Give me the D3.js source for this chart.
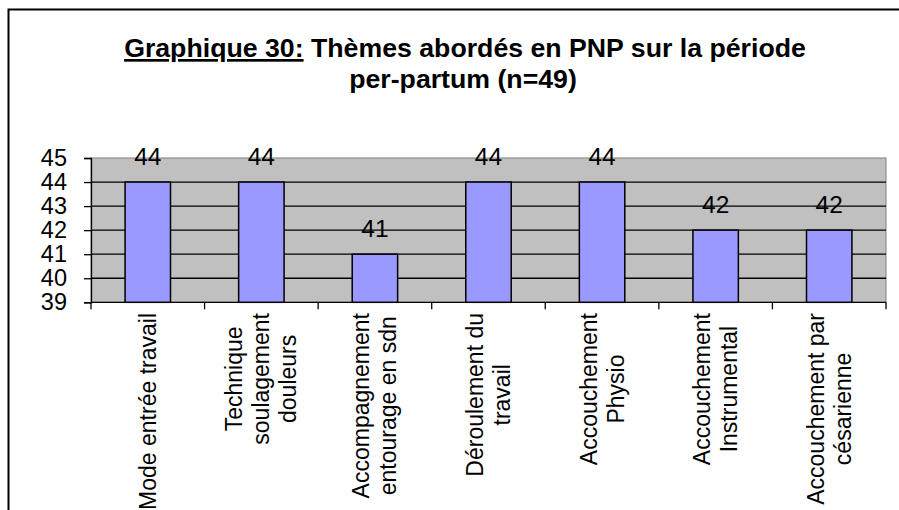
<!DOCTYPE html>
<html>
<head>
<meta charset="utf-8">
<script src="https://cdn.jsdelivr.net/npm/d3@7"></script>
<style>
    body { margin: 0; background: #fff; }
    svg { display: block; font-family: "Liberation Sans", Arial, sans-serif; }
</style>
</head>
<body>
<div id="chart"></div>
<script>
// categories, each split in the lines shown under the axis
const categories = [
    ["Mode entrée travail"],
    ["Technique", "soulagement", "douleurs"],
    ["Accompagnement", "entourage en sdn"],
    ["Déroulement du", "travail"],
    ["Accouchement", "Physio"],
    ["Accouchement", "Instrumental"],
    ["Accouchement par", "césarienne"]
];
const values = [44, 44, 41, 44, 44, 42, 42];
const y_ticks = [39, 40, 41, 42, 43, 44, 45];
const title_underlined = "Graphique 30:";
const title_line1 = " Thèmes abordés en PNP sur la période";
const title_line2 = "per-partum (n=49)";

const width = 899;
const height = 510;
const margin_left = 91;
const plot_right = 886;
const plot_top = 158;
const plot_bottom = 302.3;
const bar_color = "#9999ff";
const plot_bg = "#c0c0c0";

const svg = d3.select("#chart").append("svg")
    .attr("width", width)
    .attr("height", height);

// outer frame (right and bottom edges run off the picture)
svg.append("rect")
    .attr("x", 8.5)
    .attr("y", 9.5)
    .attr("width", 920)
    .attr("height", 540)
    .attr("fill", "none")
    .attr("stroke", "#000")
    .attr("stroke-width", 2);

// title
const title_x = 465;
const t1 = svg.append("text")
    .attr("x", title_x)
    .attr("y", 57)
    .attr("text-anchor", "middle")
    .attr("font-size", 26.7)
    .attr("font-weight", "bold")
    .attr("fill", "#000");
t1.append("tspan").attr("text-decoration", "underline").text(title_underlined);
t1.append("tspan").text(title_line1);
svg.append("text")
    .attr("x", title_x - 2)
    .attr("y", 88)
    .attr("text-anchor", "middle")
    .attr("font-size", 26.7)
    .attr("font-weight", "bold")
    .attr("fill", "#000")
    .text(title_line2);

// scales
const xScale = d3.scaleBand()
    .domain(d3.range(categories.length))
    .range([margin_left, plot_right])
    .paddingInner(0.6)
    .paddingOuter(0.3);
const step = (plot_right - margin_left) / categories.length;

const yScale = d3.scaleLinear()
    .domain([39, 45])
    .range([plot_bottom, plot_top]);

// plot area
svg.append("rect")
    .attr("x", margin_left)
    .attr("y", plot_top)
    .attr("width", plot_right - margin_left)
    .attr("height", plot_bottom - plot_top)
    .attr("fill", plot_bg)
    .attr("stroke", "#808080")
    .attr("stroke-width", 1);

// gridlines
svg.append("g")
    .selectAll("line")
    .data(y_ticks.slice(1, -1))
    .join("line")
    .attr("x1", margin_left)
    .attr("x2", plot_right)
    .attr("y1", d => yScale(d))
    .attr("y2", d => yScale(d))
    .attr("stroke", "#000")
    .attr("stroke-width", 1.3);

// y axis
const y_axis = svg.append("g")
    .attr("transform", `translate(${margin_left},0)`)
    .call(d3.axisLeft(yScale).tickValues(y_ticks).tickSize(7).tickPadding(17).tickFormat(d3.format("d")));
y_axis.select(".domain").attr("stroke", "#000").attr("stroke-width", 1.3);
y_axis.selectAll(".tick line").attr("stroke", "#000").attr("stroke-width", 1.3);
y_axis.selectAll(".tick text")
    .attr("font-size", 23.5)
    .attr("font-family", "Liberation Sans, Arial, sans-serif")
    .attr("fill", "#000");

// x axis line and ticks at category boundaries
svg.append("line")
    .attr("x1", margin_left)
    .attr("x2", plot_right)
    .attr("y1", plot_bottom)
    .attr("y2", plot_bottom)
    .attr("stroke", "#000")
    .attr("stroke-width", 1.3);
svg.append("g")
    .selectAll("line")
    .data(d3.range(categories.length + 1))
    .join("line")
    .attr("x1", i => margin_left + i * step)
    .attr("x2", i => margin_left + i * step)
    .attr("y1", plot_bottom)
    .attr("y2", plot_bottom + 7)
    .attr("stroke", "#000")
    .attr("stroke-width", 1.3);

// bars
svg.append("g")
    .selectAll("rect")
    .data(values)
    .join("rect")
    .attr("x", (d, i) => xScale(i))
    .attr("y", d => yScale(d))
    .attr("width", xScale.bandwidth())
    .attr("height", d => plot_bottom - yScale(d))
    .attr("fill", bar_color)
    .attr("stroke", "#000")
    .attr("stroke-width", 1.5);

// value labels
svg.append("g")
    .selectAll("text")
    .data(values)
    .join("text")
    .attr("x", (d, i) => xScale(i) + xScale.bandwidth() / 2)
    .attr("y", d => yScale(d) - 17)
    .attr("text-anchor", "middle")
    .attr("font-size", 24.5)
    .attr("fill", "#000")
    .text(d => d);

// rotated category labels
const line_height = 27;
const label_top = 313;
categories.forEach(function (lines, i) {
    const cx = xScale(i) + xScale.bandwidth() / 2;
    const g = svg.append("g")
        .attr("transform", `translate(${cx},${label_top}) rotate(-90)`);
    const texts = g.selectAll("text")
        .data(lines)
        .join("text")
        .attr("y", (d, j) => (j - (lines.length - 1) / 2) * line_height)
        .attr("dy", "0.35em")
        .attr("text-anchor", "middle")
        .attr("font-size", 23)
        .attr("fill", "#000")
        .text(d => d);
    let max_len = 0;
    texts.each(function () {
        max_len = Math.max(max_len, this.getComputedTextLength());
    });
    texts.attr("x", -max_len / 2);
});
</script>
</body>
</html>
